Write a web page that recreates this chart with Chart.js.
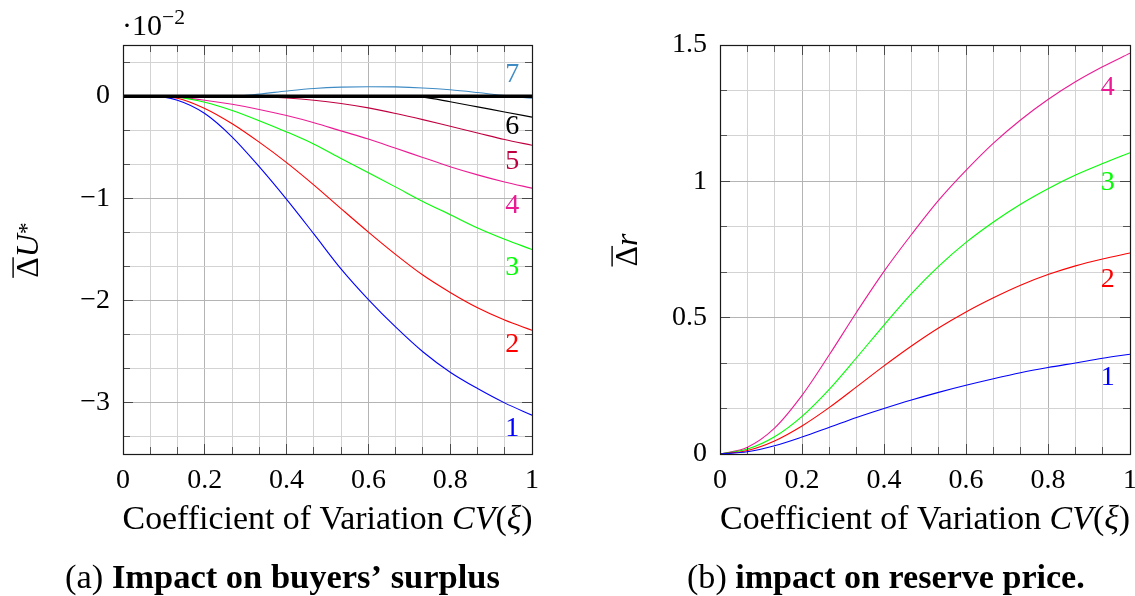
<!DOCTYPE html>
<html><head><meta charset="utf-8">
<script src="https://cdn.jsdelivr.net/npm/chart.js@4.4.1/dist/chart.umd.min.js"></script>
<style>
html,body{margin:0;padding:0;background:#fff;}
#wrap{position:relative;width:1135px;height:596px;overflow:hidden;background:#fff;}
canvas{position:absolute;left:0;top:0;}
</style></head><body>
<div id="wrap"><canvas id="cA" width="1135" height="596"></canvas><canvas id="cB" width="1135" height="596"></canvas></div>
<script>
// ---------- data ----------
const cvX = [0, 0.067, 0.133, 0.2, 0.267, 0.333, 0.4, 0.467, 0.533, 0.6, 0.667, 0.733, 0.8, 0.867, 0.933, 1];

// (a) buyers' surplus, in units of 10^-2
const surplus1 = [0, 0, -0.04, -0.17, -0.40, -0.69, -1.01, -1.35, -1.69, -1.99, -2.26, -2.50, -2.70, -2.86, -3.00, -3.12];
const surplus2 = [0, 0, -0.02, -0.12, -0.27, -0.45, -0.65, -0.87, -1.10, -1.33, -1.55, -1.75, -1.92, -2.07, -2.19, -2.29];
const surplus3 = [0, 0, -0.01, -0.06, -0.14, -0.24, -0.35, -0.47, -0.61, -0.75, -0.89, -1.03, -1.16, -1.29, -1.40, -1.50];
const surplus4 = [0, 0, -0.01, -0.04, -0.08, -0.13, -0.19, -0.26, -0.34, -0.42, -0.51, -0.60, -0.69, -0.77, -0.84, -0.90];
const surplus5 = [0, 0, 0, 0, 0, -0.005, -0.018, -0.04, -0.072, -0.115, -0.17, -0.23, -0.295, -0.36, -0.425, -0.48];
const surplus6 = [0, 0, 0, 0, 0, 0, 0, 0, 0, 0, 0, -0.01, -0.055, -0.105, -0.155, -0.205];
const surplus7 = [0, 0, 0, 0, 0, 0.02, 0.05, 0.075, 0.088, 0.092, 0.09, 0.08, 0.062, 0.035, 0.005, -0.02];
const zeroX = [0, 1];
const zeroY = [0, 0];

// (b) reserve price
const reserve1 = [0, 0.008, 0.03, 0.062, 0.098, 0.134, 0.167, 0.198, 0.226, 0.252, 0.276, 0.298, 0.317, 0.334, 0.351, 0.366];
const reserve2 = [0, 0.013, 0.048, 0.103, 0.171, 0.246, 0.323, 0.396, 0.462, 0.521, 0.573, 0.619, 0.658, 0.69, 0.715, 0.737];
const reserve3 = [0, 0.018, 0.063, 0.138, 0.238, 0.353, 0.473, 0.588, 0.688, 0.776, 0.851, 0.916, 0.973, 1.023, 1.065, 1.105];
const reserve4 = [0, 0.025, 0.095, 0.215, 0.365, 0.52, 0.67, 0.805, 0.93, 1.04, 1.14, 1.225, 1.30, 1.365, 1.42, 1.47];

const seriesNames = ['1', '2', '3', '4', '5', '6', '7'];

// tick labels
const xTickValues = [0, 0.2, 0.4, 0.6, 0.8, 1];
const xTickLabels = ['0', '0.2', '0.4', '0.6', '0.8', '1'];
const yTickValuesA = [-3, -2, -1, 0];
const yTickLabelsA = ['\u22123', '\u22122', '\u22121', '0'];
const yTickValuesB = [0, 0.5, 1, 1.5];
const yTickLabelsB = ['0', '0.5', '1', '1.5'];

// ---------- styling ----------
const COLORS = ['#0000ff', '#ff0000', '#00ff00', '#eb1b94', '#bf0040', '#000000', '#3f8bc4'];
const SERIF = "'Liberation Serif', 'Times New Roman', serif";
Chart.defaults.font.family = SERIF;
Chart.defaults.font.size = 28;
Chart.defaults.color = '#000';

function fnt(sz, style, weight) { return (style || 'normal') + ' ' + (weight || 'normal') + ' ' + sz + 'px ' + SERIF; }
function drawRuns(ctx, runs, x, y, opt) {
  let size = opt.size;
  const measure = (s) => runs.reduce((w, r) => { ctx.font = fnt(s * (r.scale || 1), r.style, r.weight); return w + ctx.measureText(r.t).width; }, 0);
  if (opt.width) size = size * opt.width / measure(size);
  const total = measure(size);
  let cx = opt.align === 'center' ? x - total / 2 : (opt.align === 'right' ? x - total : x);
  const pos = [];
  runs.forEach(r => {
    ctx.font = fnt(size * (r.scale || 1), r.style, r.weight);
    ctx.fillStyle = r.color || '#000';
    ctx.textBaseline = 'alphabetic'; ctx.textAlign = 'left';
    const w = ctx.measureText(r.t).width;
    ctx.fillText(r.t, cx, y - (r.rise || 0) * size);
    pos.push({ x: cx, w: w });
    cx += w;
  });
  return { size, pos };
}
function gridVals(min, max, step) {
  const out = [];
  for (let k = Math.ceil(min / step - 1e-9); k * step <= max + 1e-9; k++) out.push(k * step);
  return out;
}
const isMul = (v, step) => Math.abs(v / step - Math.round(v / step)) < 1e-6;
function labelFor(vals, labels) {
  return function (v) {
    for (let i = 0; i < vals.length; i++) if (Math.abs(v - vals[i]) < 1e-6) return labels[i];
    return '';
  };
}
const alignPx = (p) => Math.round(p - 0.5) + 0.5;

const decor = {
  id: 'decor',
  afterDraw(chart, args, o) {
    const ctx = chart.ctx, a = chart.chartArea;
    const xs = chart.scales.x, ys = chart.scales.y;
    ctx.save();
    // inner tick marks
    ctx.strokeStyle = 'rgba(0,0,0,0.6)'; ctx.lineWidth = 1;
    ctx.beginPath();
    xs.ticks.forEach(t => {
      const p = alignPx(xs.getPixelForValue(t.value));
      const L = isMul(t.value, o.xMajor) ? 10 : 7;
      ctx.moveTo(p, a.bottom); ctx.lineTo(p, a.bottom - L);
      ctx.moveTo(p, a.top); ctx.lineTo(p, a.top + L);
    });
    ys.ticks.forEach(t => {
      const p = alignPx(ys.getPixelForValue(t.value));
      const L = isMul(t.value, o.yMajor) ? 10 : 7;
      ctx.moveTo(a.left, p); ctx.lineTo(a.left + L, p);
      ctx.moveTo(a.right, p); ctx.lineTo(a.right - L, p);
    });
    ctx.stroke();
    // frame
    ctx.strokeStyle = '#1a1a1a'; ctx.lineWidth = 1.2;
    const l = alignPx(a.left), r = alignPx(a.right), t = alignPx(a.top), b = alignPx(a.bottom);
    ctx.strokeRect(l, t, r - l, b - t);
    // curve labels
    ctx.textAlign = 'center'; ctx.textBaseline = 'middle';
    ctx.font = fnt(28);
    o.labels.forEach(lb => {
      ctx.fillStyle = lb.color;
      ctx.fillText(lb.t, xs.getPixelForValue(lb.x), ys.getPixelForValue(lb.y));
    });
    o.extra(ctx, a);
    ctx.restore();
  }
};

function lineDS(xv, yv, color, width, order) {
  return {
    data: yv.map((y, i) => ({ x: xv[i], y: y })),
    borderColor: color, borderWidth: width, pointRadius: 0, fill: false,
    cubicInterpolationMode: 'monotone', order: order
  };
}

function makeChart(id, datasets, yMin, yMax, yStep, yMajor, yVals, yLabels, pad, yWidth, labels, extra) {
  const gridColor = (step) => (c) => (c.tick && isMul(c.tick.value, step)) ? '#b4b4b4' : '#d3d3d3';
  return new Chart(document.getElementById(id), {
    type: 'line',
    data: { datasets: datasets },
    options: {
      responsive: false, animation: false, devicePixelRatio: 1,
      layout: { padding: pad },
      plugins: { legend: { display: false }, tooltip: { enabled: false }, decor: { xMajor: 0.2, yMajor: yMajor, labels: labels, extra: extra } },
      scales: {
        x: {
          type: 'linear', min: 0, max: 1,
          afterBuildTicks: (s) => { s.ticks = gridVals(0, 1, 1 / 15).map(v => ({ value: v })); },
          afterFit: (s) => { s.height = 40; s.paddingLeft = 0; s.paddingRight = 0; },
          ticks: { autoSkip: false, maxRotation: 0, minRotation: 0, padding: 10, callback: labelFor(xTickValues, xTickLabels) },
          grid: { drawTicks: false, color: gridColor(0.2), lineWidth: 1 },
          border: { display: false }
        },
        y: {
          type: 'linear', min: yMin, max: yMax,
          afterBuildTicks: (s) => { s.ticks = gridVals(yMin, yMax, yStep).map(v => ({ value: v })); },
          afterFit: (s) => { s.width = yWidth; s.paddingTop = 0; s.paddingBottom = 0; },
          ticks: { autoSkip: false, padding: 13, callback: labelFor(yVals, yLabels) },
          grid: { drawTicks: false, color: gridColor(yMajor), lineWidth: 1 },
          border: { display: false }
        }
      }
    },
    plugins: [decor]
  });
}

// ---------- chart (a) ----------
const dsA = [lineDS(zeroX, zeroY, '#000', 3.5, 0)];
[surplus1, surplus2, surplus3, surplus4, surplus5, surplus6, surplus7].forEach((s, i) => dsA.push(lineDS(cvX, s, COLORS[i], 1.1, 1)));
const labelsA = [
  { t: seriesNames[0], x: 0.952, y: -3.25, color: COLORS[0] },
  { t: seriesNames[1], x: 0.952, y: -2.43, color: COLORS[1] },
  { t: seriesNames[2], x: 0.952, y: -1.68, color: COLORS[2] },
  { t: seriesNames[3], x: 0.952, y: -1.07, color: COLORS[3] },
  { t: seriesNames[4], x: 0.952, y: -0.645, color: COLORS[4] },
  { t: seriesNames[5], x: 0.952, y: -0.30, color: COLORS[5] },
  { t: seriesNames[6], x: 0.952, y: 0.206, color: COLORS[6] }
];
makeChart('cA', dsA, -3.5, 0.5, 1 / 3, 1, yTickValuesA, yTickLabelsA,
  { left: 0, top: 45, right: 603, bottom: 102 }, 123, labelsA, (ctx, a) => {
    // multiplier
    drawRuns(ctx, [{ t: '\u00b710' }, { t: '\u22122', scale: 0.72, rise: 0.36 }], 122, 35, { size: 30, align: 'left' });
    // y title
    ctx.save(); ctx.translate(38, 250); ctx.rotate(-Math.PI / 2);
    const r = drawRuns(ctx, [{ t: '\u0394' }, { t: 'U', style: 'italic' }, { t: '*', scale: 0.75, rise: 0.12 }], 0, 0, { size: 32, align: 'center' });
    ctx.fillStyle = '#000'; ctx.fillRect(r.pos[0].x, -0.8 * r.size, r.pos[0].w, 1.4);
    ctx.restore();
    // x title
    drawRuns(ctx, [{ t: 'Coefficient of Variation ' }, { t: 'CV', style: 'italic' }, { t: '(' }, { t: '\u03be', style: 'italic' }, { t: ')' }],
      (a.left + a.right) / 2, 529, { size: 32, width: 410, align: 'center' });
    // caption
    drawRuns(ctx, [{ t: '(a) ' }, { t: 'Impact on buyers\u2019 surplus', weight: 'bold' }], 65, 588, { size: 32, width: 435, align: 'left' });
  });

// ---------- chart (b) ----------
const dsB = [];
[reserve1, reserve2, reserve3, reserve4].forEach((s, i) => dsB.push(lineDS(cvX, s, COLORS[i], 1.1, 1)));
const labelsB = [
  { t: seriesNames[0], x: 0.946, y: 0.279, color: COLORS[0] },
  { t: seriesNames[1], x: 0.946, y: 0.638, color: COLORS[1] },
  { t: seriesNames[2], x: 0.946, y: 0.994, color: COLORS[2] },
  { t: seriesNames[3], x: 0.946, y: 1.342, color: COLORS[3] }
];
makeChart('cB', dsB, 0, 1.5, 1 / 6, 0.5, yTickValuesB, yTickLabelsB,
  { left: 567, top: 45, right: 5, bottom: 102 }, 153, labelsB, (ctx, a) => {
    ctx.save(); ctx.translate(637, 250); ctx.rotate(-Math.PI / 2);
    const r = drawRuns(ctx, [{ t: '\u0394' }, { t: 'r', style: 'italic' }], 0, 0, { size: 32, align: 'center' });
    ctx.fillStyle = '#000'; ctx.fillRect(r.pos[0].x, -0.8 * r.size, r.pos[0].w, 1.4);
    ctx.restore();
    drawRuns(ctx, [{ t: 'Coefficient of Variation ' }, { t: 'CV', style: 'italic' }, { t: '(' }, { t: '\u03be', style: 'italic' }, { t: ')' }],
      (a.left + a.right) / 2, 529, { size: 32, width: 410, align: 'center' });
    drawRuns(ctx, [{ t: '(b) ' }, { t: 'impact on reserve price.', weight: 'bold' }], 687, 588, { size: 32, width: 398, align: 'left' });
  });
</script>
</body></html>
